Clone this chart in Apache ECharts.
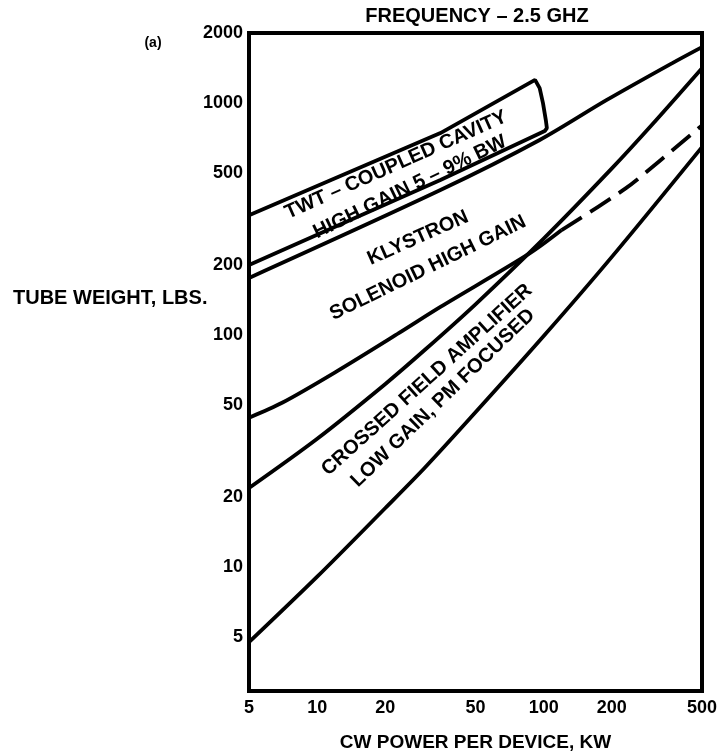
<!DOCTYPE html>
<html>
<head>
<meta charset="utf-8">
<title>Tube weight vs CW power</title>
<script src="https://cdn.jsdelivr.net/npm/echarts@6/dist/echarts.min.js"></script>
<style>
  html, body { margin: 0; padding: 0; background: #fff; }
  #chart { width: 719px; height: 752px; }
</style>
</head>
<body>
<div id="chart"></div>
<script>
// Tick labels
const xTickValues = [5, 10, 20, 50, 100, 200, 500];
const yTickValues = [5, 10, 20, 50, 100, 200, 500, 1000, 2000];

// Curves: [CW power kW, tube weight lbs]
// TWT coupled-cavity band, drawn as one closed outline (upper edge, right end, lower edge)
const twtOutline = [[5, 328], [35, 741], [91.6, 1256], [96, 1158], [99.3, 998], [102.2, 843], [103.3, 779], [101.1, 756], [35, 465], [5, 200]];
// Klystron band upper edge
const klystronUpper = [[5, 176], [35, 421], [96, 692], [190, 1030], [370, 1485], [500, 1740]];
// Solenoid high-gain klystron, solid part then extrapolated (dashed) part
const solenoidSolid = [[5, 44], [7, 51], [12, 69], [23, 102], [35, 132], [87, 225], [120, 283]];
const solenoidDashed = [[120, 283], [230, 428], [327, 565], [500, 800]];
// Crossed field amplifier band
const cfaUpper = [[5, 21.9], [10, 35.7], [20, 61.5], [30, 86.5], [50, 135.5], [100, 260], [200, 522], [300, 803], [500, 1411]];
const cfaLower = [[5, 4.74], [10, 9.08], [20, 17.95], [30, 26.9], [50, 46.4], [100, 98.9], [200, 217], [500, 645]];

const FONT = "'Liberation Sans', Arial, Helvetica, sans-serif";
const deg = d => d * Math.PI / 180;

function curve(data, opts) {
  return Object.assign({
    type: 'line',
    data: data,
    showSymbol: false,
    symbol: 'none',
    silent: true,
    lineStyle: { color: '#000', width: 3.8, type: 'solid' },
    z: 3
  }, opts || {});
}

function label(text, x, y, angle, size) {
  return {
    type: 'text',
    x: x, y: y,
    rotation: deg(angle || 0),
    style: {
      text: text,
      fill: '#000',
      font: 'bold ' + (size || 20) + 'px ' + FONT,
      align: 'center',
      verticalAlign: 'middle'
    },
    z: 10
  };
}

const chart = echarts.init(document.getElementById('chart'), null, { renderer: 'canvas' });

chart.setOption({
  animation: false,
  backgroundColor: '#fff',
  grid: {
    left: 249, right: 17, top: 33, bottom: 61,
    outerBoundsMode: 'none',
    containLabel: false,
    show: true,
    borderColor: '#000',
    borderWidth: 4,
    backgroundColor: 'transparent'
  },
  xAxis: {
    type: 'log',
    logBase: 10,
    min: 4.999,
    max: 500.1,
    name: 'CW POWER PER DEVICE, KW',
    nameLocation: 'middle',
    nameGap: 42,
    nameTextStyle: { color: '#000', fontFamily: FONT, fontWeight: 'bold', fontSize: 19 },
    axisLine: { show: false },
    axisTick: { show: false },
    splitLine: { show: false },
    minorSplitLine: { show: false },
    axisLabel: {
      customValues: xTickValues,
      formatter: v => String(Math.round(v)),
      color: '#000',
      fontFamily: FONT,
      fontWeight: 'bold',
      fontSize: 18,
      margin: 8
    }
  },
  yAxis: {
    type: 'log',
    logBase: 10,
    min: 2.92,
    max: 2001,
    axisLine: { show: false },
    axisTick: { show: false },
    splitLine: { show: false },
    minorSplitLine: { show: false },
    axisLabel: {
      customValues: yTickValues,
      formatter: v => String(Math.round(v)),
      color: '#000',
      fontFamily: FONT,
      fontWeight: 'bold',
      fontSize: 18,
      margin: 6
    }
  },
  series: [
    curve(twtOutline, { name: 'TWT' }),
    curve(klystronUpper, { name: 'Klystron', smooth: 0.3 }),
    curve(solenoidSolid, { name: 'Solenoid', smooth: 0.3 }),
    curve(solenoidDashed, { name: 'Solenoid ext', smooth: 0.3, lineStyle: { color: '#000', width: 3.8, type: [24, 10] } }),
    curve(cfaUpper, { name: 'CFA upper', smooth: 0.3 }),
    curve(cfaLower, { name: 'CFA lower', smooth: 0.3 })
  ],
  graphic: [
    label('FREQUENCY \u2013 2.5 GHZ', 477, 16, 0, 20),
    label('(a)', 153, 43, 0, 14),
    {
      type: 'text', x: 13, y: 298,
      style: { text: 'TUBE WEIGHT, LBS.', fill: '#000', font: 'bold 20px ' + FONT, align: 'left', verticalAlign: 'middle' },
      z: 10
    },
    label('TWT \u2013 COUPLED CAVITY', 396, 165, 24),
    label('HIGH GAIN 5 \u2013 9% BW', 410, 187, 26),
    label('KLYSTRON', 418, 238, 24),
    label('SOLENOID HIGH GAIN', 428, 268, 26),
    label('CROSSED FIELD AMPLIFIER', 427, 380, 42),
    label('LOW GAIN, PM FOCUSED', 443, 398, 44)
  ]
});
</script>
</body>
</html>
